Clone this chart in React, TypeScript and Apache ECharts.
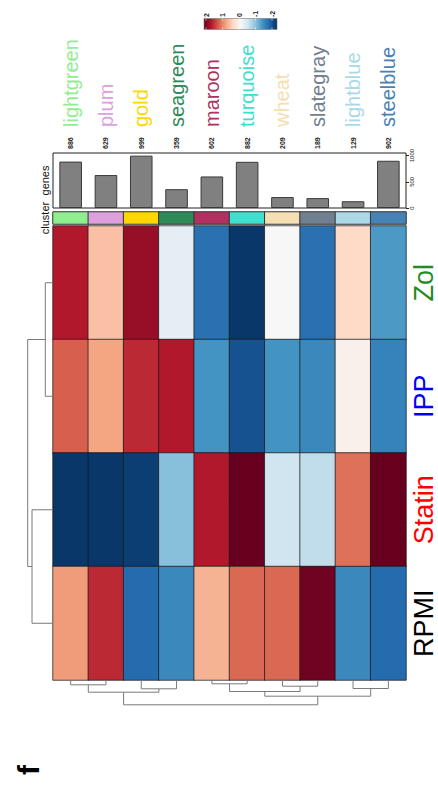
import React, { useEffect, useRef } from 'react';
import * as echarts from 'echarts';

const clusters = ['lightgreen', 'plum', 'gold', 'seagreen', 'maroon', 'turquoise', 'wheat', 'slategray', 'lightblue', 'steelblue'];
const clusterColors = ['#90EE90', '#DDA0DD', '#FFD700', '#2E8B57', '#B03060', '#40E0D0', '#F5DEB3', '#708090', '#ADD8E6', '#4682B4'];
const geneCounts = [886, 629, 999, 359, 602, 882, 209, 189, 129, 902];
const geneTicks = [0, 500, 1000];

const conditions = ['Zol', 'IPP', 'Statin', 'RPMI'];
const conditionColors = ['#228B22', '#0000FF', '#FF0000', '#000000'];
const zolValues = [1.6, 0.6, 1.75, -0.2, -1.5, -1.95, 0, -1.5, 0.4, -1.15];
const ippValues = [1.2, 0.8, 1.5, 1.6, -1.2, -1.75, -1.2, -1.3, 0.1, -1.35];
const statinValues = [-1.95, -1.95, -1.9, -0.85, 1.6, 2, -0.4, -0.5, 1.1, 2];
const rpmiValues = [0.85, 1.5, -1.55, -1.3, 0.7, 1.15, 1.15, 1.95, -1.3, -1.55];

const legendTicks = [2, 1, 0, -1, -2];
const rdbu = ['#053061', '#2166AC', '#4393C3', '#92C5DE', '#D1E5F0', '#F7F7F7', '#FDDBC7', '#F4A582', '#D6604D', '#B2182B', '#67001F'];

// [posA, heightA, posB, heightB, mergeHeight]
const rowMerges = [
  [0, 0, 1, 0, 7.7],
  [2, 0, 3, 0, 21],
  [0.5, 7.7, 2.5, 21, 25.3],
];
const colMerges = [
  [0, 0, 1, 0, 4.8],
  [2, 0, 3, 0, 8.8],
  [0.5, 4.8, 2.5, 8.8, 12.2],
  [4, 0, 5, 0, 3.8],
  [6, 0, 7, 0, 6.2],
  [4.5, 3.8, 6.5, 6.2, 11.5],
  [8, 0, 9, 0, 8.5],
  [5.5, 11.5, 8.5, 8.5, 16.2],
  [1.5, 12.2, 7.0, 16.2, 24.8],
];

const FONT = 'Liberation Sans, Arial, sans-serif';

export default function App() {
  const ref = useRef<HTMLDivElement>(null);
  useEffect(() => {
    if (!ref.current) return;
    const chart = echarts.init(ref.current, null, { renderer: 'svg' });
    const rows = [zolValues, ippValues, statinValues, rpmiValues];
    const heatData: number[][] = [];
    rows.forEach((r, ri) => r.forEach((v, ci) => heatData.push([ci, ri, v])));
    const stripData = clusters.map((c, i) => [i, 0, i]);
    const nameData = clusters.map((c, i) => ({ value: [i, 0], label: { color: clusterColors[i] } }));
    const condRich: any = {};
    conditions.forEach((c, i) => { condRich['r' + i] = { color: conditionColors[i], fontSize: 27 }; });
    const lineStyle = { stroke: '#7a7a7a', fill: null, lineWidth: 1 };
    const legendX = (v: number) => 206 + (2 - v) * 16.5;
    const graphics: any[] = [
      {
        type: 'rect', shape: { x: 204, y: 18.5, width: 73, height: 11 },
        style: {
          fill: new echarts.graphic.LinearGradient(0, 0, 1, 0, rdbu.slice().reverse().map((c, i) => ({ offset: i / 10, color: c }))),
          stroke: '#777', lineWidth: 0.6,
        },
      },
      { type: 'text', x: 28, y: 770, rotation: Math.PI / 2, style: { text: 'f', fontSize: 30, fontWeight: 'bold', fill: '#000', align: 'center', verticalAlign: 'middle', fontFamily: FONT } },
    ];
    legendTicks.forEach((v) => {
      graphics.push({ type: 'text', x: legendX(v), y: 17, rotation: Math.PI / 2, style: { text: String(v), fontSize: 7, fontWeight: 'bold', fill: '#222', align: 'left', verticalAlign: 'middle', fontFamily: FONT } });
      graphics.push({ type: 'line', shape: { x1: legendX(v), y1: 18.5, x2: legendX(v), y2: 20.5 }, style: { stroke: '#fff', lineWidth: 0.6 } });
      graphics.push({ type: 'line', shape: { x1: legendX(v), y1: 27.5, x2: legendX(v), y2: 29.5 }, style: { stroke: '#fff', lineWidth: 0.6 } });
    });

    chart.setOption({
      animation: false,
      textStyle: { fontFamily: FONT },
      grid: [
        { left: 53, top: 226, width: 353, height: 454 },
        { left: 53, top: 212, width: 353, height: 12 },
        { left: 53, top: 153, width: 353, height: 55, show: true, borderColor: '#222', borderWidth: 1, backgroundColor: 'transparent' },
        { left: 25, top: 226, width: 28, height: 454 },
        { left: 53, top: 680, width: 353, height: 30 },
        { left: 53, top: 20, width: 353, height: 107 },
      ],
      xAxis: [
        { type: 'category', gridIndex: 0, data: clusters, show: false },
        { type: 'category', gridIndex: 1, data: clusters, show: false },
        {
          type: 'category', gridIndex: 2, data: clusters, position: 'top',
          axisLine: { show: false }, axisTick: { show: false },
          axisLabel: { interval: 0, rotate: 90, margin: 4, fontSize: 7, fontWeight: 'bold', color: '#222', formatter: (v: string, i: number) => String(geneCounts[i]) },
        },
        { type: 'category', gridIndex: 5, data: clusters, show: false },
        { type: 'value', gridIndex: 3, min: 0, max: 28, inverse: true, show: false },
        { type: 'value', gridIndex: 4, min: -0.5, max: 9.5, show: false },
      ],
      yAxis: [
        {
          type: 'category', gridIndex: 0, data: conditions, inverse: true, position: 'right',
          axisLine: { show: false }, axisTick: { show: false },
          axisLabel: { interval: 0, rotate: 90, margin: 4, fontSize: 27, rich: condRich, formatter: (v: string, i: number) => `{r${i}|${v}}` },
        },
        {
          type: 'category', gridIndex: 1, data: ['cluster'], position: 'left',
          axisLine: { show: false }, axisTick: { show: false },
          axisLabel: { rotate: 90, margin: 3, fontSize: 11, color: '#111' },
        },
        {
          type: 'value', gridIndex: 2, position: 'right', min: 0, max: 1050,
          axisLine: { show: false }, splitLine: { show: false },
          axisTick: { show: true, length: 3, lineStyle: { color: '#222' }, customValues: geneTicks },
          axisLabel: { rotate: 90, margin: 3, fontSize: 6, color: '#222', customValues: geneTicks, formatter: (v: number) => String(v) },
        },
        {
          type: 'category', gridIndex: 2, data: ['genes'], position: 'left',
          axisLine: { show: false }, axisTick: { show: false },
          axisLabel: { rotate: 90, margin: 3, fontSize: 11, color: '#111' },
        },
        { type: 'value', gridIndex: 5, min: 0, max: 1, show: false },
        { type: 'value', gridIndex: 3, min: -0.5, max: 3.5, inverse: true, show: false },
        { type: 'value', gridIndex: 4, min: 0, max: 30, inverse: true, show: false },
      ],
      visualMap: [
        {
          type: 'continuous', min: -2, max: 2, dimension: 2, seriesIndex: 0, show: false,
          inRange: { color: rdbu },
        },
        {
          type: 'piecewise', dimension: 2, seriesIndex: 1, show: false,
          pieces: clusterColors.map((c, i) => ({ value: i, color: c })),
        },
      ],
      graphic: graphics,
      series: [
        {
          type: 'heatmap', xAxisIndex: 0, yAxisIndex: 0, data: heatData,
          itemStyle: { borderColor: 'rgba(20,20,20,0.7)', borderWidth: 1 },
          emphasis: { disabled: true },
        },
        {
          type: 'heatmap', xAxisIndex: 1, yAxisIndex: 1, data: stripData,
          itemStyle: { borderColor: '#333', borderWidth: 1 },
          emphasis: { disabled: true },
        },
        {
          type: 'bar', xAxisIndex: 2, yAxisIndex: 2, data: geneCounts, barCategoryGap: '36%',
          itemStyle: { color: '#808080', borderColor: '#3a3a3a', borderWidth: 1 },
        },
        {
          type: 'scatter', xAxisIndex: 3, yAxisIndex: 4, data: nameData,
          symbolSize: 1, itemStyle: { color: 'rgba(0,0,0,0)' }, silent: true,
          label: {
            show: true, position: 'inside', rotate: 90, align: 'left', verticalAlign: 'middle',
            fontSize: 20, fontFamily: FONT, textBorderWidth: 0, opacity: 1,
            formatter: (p: any) => clusters[p.dataIndex],
          },
          emphasis: { disabled: true },
        },
        {
          type: 'custom', xAxisIndex: 4, yAxisIndex: 5, data: rowMerges,
          encode: { x: [1, 3, 4], y: [0, 2] },
          renderItem: (params: any, api: any) => {
            const pts = [
              api.coord([api.value(1), api.value(0)]),
              api.coord([api.value(4), api.value(0)]),
              api.coord([api.value(4), api.value(2)]),
              api.coord([api.value(3), api.value(2)]),
            ];
            return { type: 'polyline', shape: { points: pts }, style: lineStyle };
          },
        },
        {
          type: 'custom', xAxisIndex: 5, yAxisIndex: 6, data: colMerges,
          encode: { x: [0, 2], y: [1, 3, 4] },
          renderItem: (params: any, api: any) => {
            const pts = [
              api.coord([api.value(0), api.value(1)]),
              api.coord([api.value(0), api.value(4)]),
              api.coord([api.value(2), api.value(4)]),
              api.coord([api.value(2), api.value(3)]),
            ];
            return { type: 'polyline', shape: { points: pts }, style: lineStyle };
          },
        },
      ],
    });
    return () => chart.dispose();
  }, []);
  return <div ref={ref} style={{ position: 'fixed', left: 0, top: 0, width: 438, height: 788, background: '#fff' }} />;
}
